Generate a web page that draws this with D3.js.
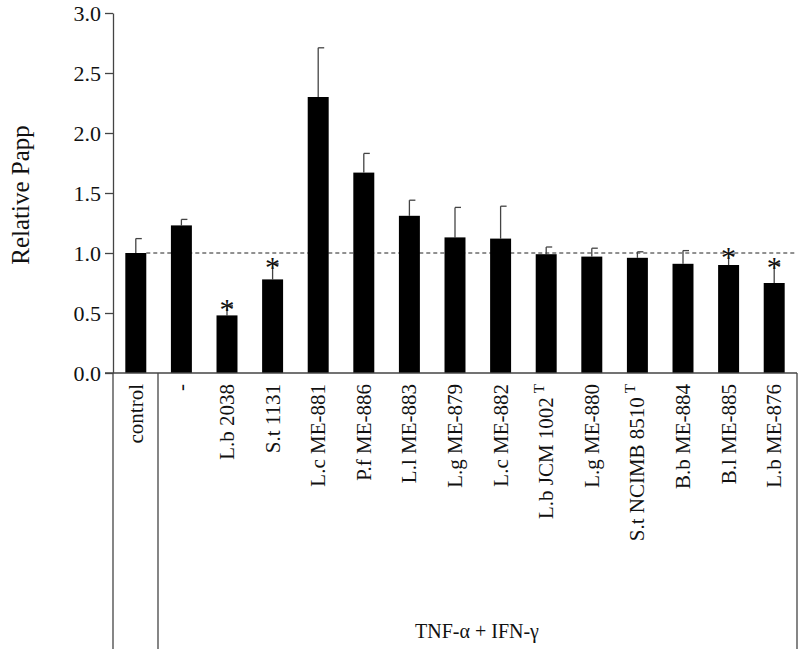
<!DOCTYPE html>
<html><head><meta charset="utf-8">
<script src="https://cdn.jsdelivr.net/npm/d3@7"></script>
<style>body{margin:0;background:#fff} svg text{font-family:"Liberation Serif","Times New Roman",serif !important}</style>
</head><body>
<script>
// data
var labels = ["control", "-", "L.b 2038", "S.t 1131", "L.c ME-881", "P.f ME-886", "L.l ME-883",
    "L.g ME-879", "L.c ME-882", "L.b JCM 1002", "L.g ME-880", "S.t NCIMB 8510", "B.b ME-884", "B.l ME-885", "L.b ME-876"];
var superT = [false, false, false, false, false, false, false, false, false, true, false, true, false, false, false];
var values = [1.00, 1.23, 0.48, 0.78, 2.30, 1.67, 1.31, 1.13, 1.12, 0.99, 0.97, 0.96, 0.91, 0.90, 0.75];
var errors = [0.12, 0.05, 0.08, 0.13, 0.41, 0.16, 0.13, 0.25, 0.27, 0.06, 0.07, 0.05, 0.11, 0.09, 0.16];
var stars = [false, false, true, true, false, false, false, false, false, false, false, false, false, true, true];
var yTicks = [0, 0.5, 1.0, 1.5, 2.0, 2.5, 3.0];

var svg = d3.select("body").append("svg").attr("width", 800).attr("height", 649);

var x = d3.scaleBand().domain(d3.range(labels.length)).range([113, 797]).paddingInner(0.54).paddingOuter(0.27);
var y = d3.scaleLinear().domain([0, 3]).range([373, 13]);

// y axis
var yAxis = svg.append("g").attr("transform", "translate(113,0)")
    .call(d3.axisLeft(y).tickValues(yTicks).tickFormat(d3.format(".1f")).tickSize(8).tickSizeOuter(0));
yAxis.select(".domain").attr("stroke", "#444").attr("stroke-width", 1.3);
yAxis.selectAll(".tick line").attr("stroke", "#444").attr("stroke-width", 1.3);
yAxis.selectAll("text").style("font-size", "22px").attr("fill", "#111").attr("x", -12);

svg.append("text").attr("transform", "translate(29,195) rotate(-90)")
    .attr("text-anchor", "middle").style("font-size", "25px").attr("fill", "#111").text("Relative Papp");

// reference line at 1.0
svg.append("line").attr("x1", x(0) + x.bandwidth()).attr("x2", 797)
    .attr("y1", y(1)).attr("y2", y(1)).attr("stroke", "#222").attr("stroke-dasharray", "4,3");

// error bars
var cx = function(i) { return x(i) + x.bandwidth() / 2; };
var eb = svg.append("g").attr("stroke", "#444").attr("stroke-width", 1.3);
values.forEach(function(v, i) {
    eb.append("line").attr("x1", cx(i)).attr("x2", cx(i)).attr("y1", y(v)).attr("y2", y(v + errors[i]));
    eb.append("line").attr("x1", cx(i)).attr("x2", cx(i) + 6).attr("y1", y(v + errors[i])).attr("y2", y(v + errors[i]));
});

// bars
svg.append("g").selectAll("rect").data(values).enter().append("rect")
    .attr("x", (d, i) => x(i)).attr("width", x.bandwidth())
    .attr("y", d => y(d)).attr("height", d => y(0) - y(d)).attr("fill", "#000");

// significance stars
values.forEach(function(v, i) {
    if (!stars[i]) return;
    svg.append("text").attr("x", cx(i)).attr("y", y(v + errors[i]) + 13)
        .attr("text-anchor", "middle").style("font-size", "30px").attr("fill", "#111").text("*");
});

// x axis line and group box
svg.append("line").attr("x1", 105).attr("x2", 797).attr("y1", 373).attr("y2", 373).attr("stroke", "#444").attr("stroke-width", 1.3);
[113, 158, 797].forEach(function(lx) {
    svg.append("line").attr("x1", lx).attr("x2", lx).attr("y1", 373).attr("y2", 649).attr("stroke", "#444").attr("stroke-width", 1.3);
});

// category labels
labels.forEach(function(l, i) {
    var t = svg.append("text").attr("transform", "translate(" + (cx(i) + 7) + ",384) rotate(-90)")
        .attr("text-anchor", "end").style("font-size", "21px").attr("fill", "#111");
    t.append("tspan").text(l);
    if (superT[i]) t.append("tspan").attr("dx", 4).attr("dy", -9).style("font-size", "15px").text("T");
});

svg.append("text").attr("x", 477).attr("y", 638).attr("text-anchor", "middle")
    .style("font-size", "20px").attr("fill", "#111").text("TNF-α + IFN-γ");
</script>
</body></html>
